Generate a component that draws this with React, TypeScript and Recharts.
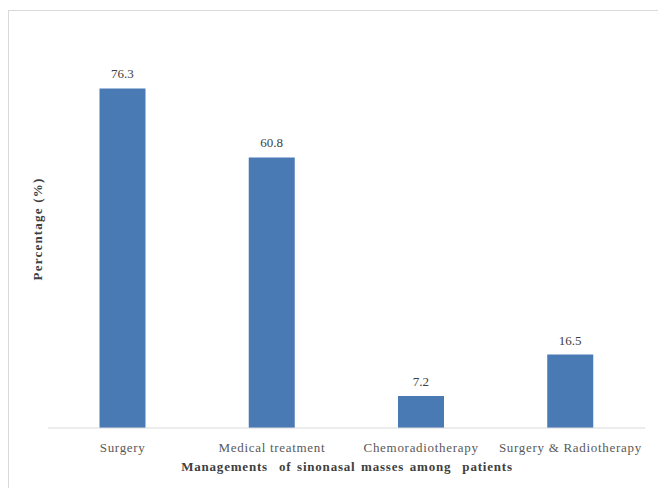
import React from "react";
import { BarChart, Bar, XAxis, YAxis, LabelList } from "recharts";

const categories = ["Surgery", "Medical treatment", "Chemoradiotherapy", "Surgery & Radiotherapy"];
const percentages = [76.3, 60.8, 7.2, 16.5];
const data = categories.map((name, i) => ({ name, value: percentages[i] }));

const FONT = '"Liberation Serif", "Times New Roman", serif';

const Tick = (props: any) => {
  const { x, y, payload } = props;
  return (
    <text x={x} y={y + 16} textAnchor="middle" fontFamily={FONT} fontSize={13} fill="#595959" style={{ letterSpacing: 0.7 }}>
      {payload.value}
    </text>
  );
};

export default function App() {
  return (
    <div style={{ position: "absolute", left: 8, top: 10, width: 660, height: 490, borderLeft: "1px solid #d9d9d9", borderTop: "1px solid #d9d9d9" }}>
      <BarChart
        width={650}
        height={477}
        data={data}
        margin={{ top: 61, right: 14, left: 39, bottom: 0 }}
        barCategoryGap="34.5%"
      >
        <XAxis
          dataKey="name"
          axisLine={{ stroke: "#d9d9d9", strokeWidth: 1 }}
          tickLine={false}
          tick={<Tick />}
          height={60}
          interval={0}
        />
        <YAxis hide domain={[0, 80]} />
        <Bar dataKey="value" fill="#4a7ab4" isAnimationActive={false}>
          <LabelList dataKey="value" position="top" offset={10} fontFamily={FONT} fontSize={13} fill="#404040" />
        </Bar>
        <text x={338} y={460} textAnchor="middle" fontFamily={FONT} fontSize={13} fontWeight="bold" fill="#404040" style={{ letterSpacing: 0.8, wordSpacing: 1.5, whiteSpace: "pre" }}>
          Managements  of sinonasal masses among  patients
        </text>
        <text
          x={33}
          y={218}
          textAnchor="middle"
          fontFamily={FONT}
          fontSize={13}
          fontWeight="bold"
          fill="#404040"
          transform="rotate(-90 33 218)"
          style={{ letterSpacing: 1.2 }}
        >
          Percentage (%)
        </text>
      </BarChart>
    </div>
  );
}
